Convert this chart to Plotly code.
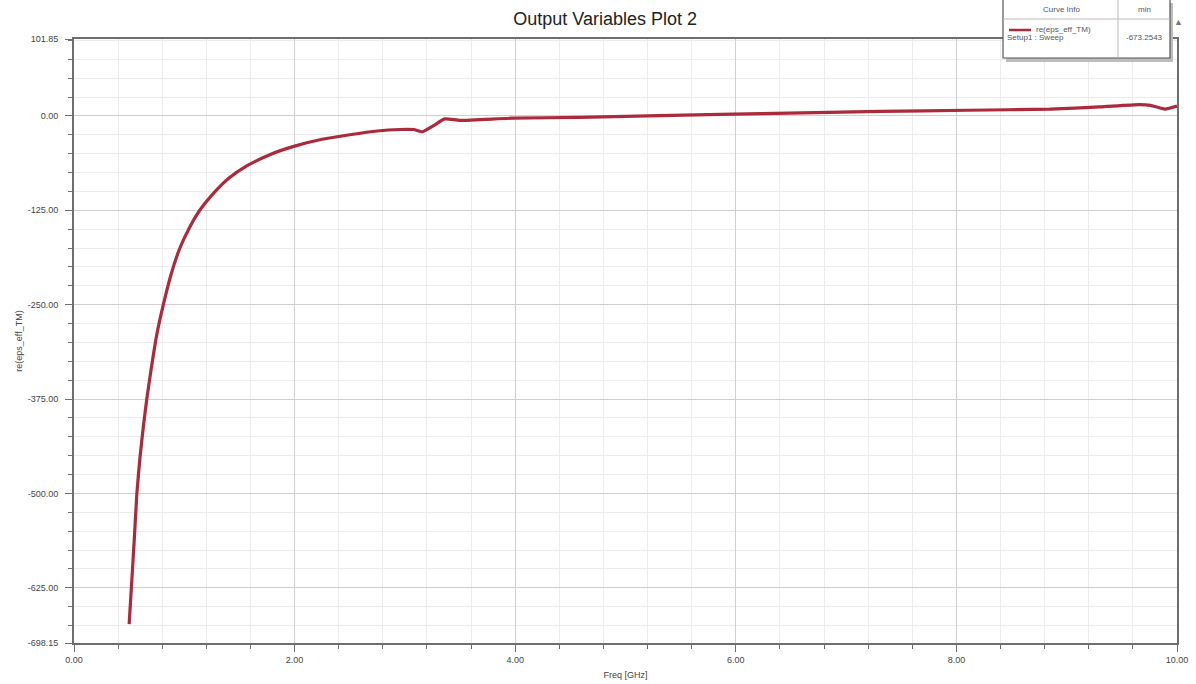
import plotly.graph_objects as go

# Swept frequency (GHz) and the real part of the effective TM permittivity
freq_ghz = [0.50, 0.52, 0.545, 0.57, 0.60, 0.63, 0.66, 0.70, 0.75, 0.81,
            0.88, 0.96, 1.05, 1.14, 1.25, 1.40, 1.57, 1.78, 2.00, 2.25,
            2.50, 2.75, 2.95, 3.08, 3.16, 3.26, 3.36, 3.50, 3.98, 4.59,
            5.20, 5.86, 6.60, 7.31, 8.10, 8.85, 9.30, 9.66, 9.76, 9.89, 10.0]
re_eps_eff_tm = [-673.25, -625, -565, -500, -450, -410, -375, -335, -290, -250,
                 -210, -175, -147, -125, -105, -83, -66, -51, -40, -31,
                 -25, -20, -18, -18, -21, -13, -4, -6, -3, -2,
                 0, 2, 4, 6, 7.5, 9, 12, 15, 14, 9, 13]

x_major = [0, 2, 4, 6, 8, 10]
x_labels = ["0.00", "2.00", "4.00", "6.00", "8.00", "10.00"]
y_major = [101.85, 0, -125, -250, -375, -500, -625, -698.15]
y_labels = ["101.85", "0.00", "-125.00", "-250.00", "-375.00", "-500.00", "-625.00", "-698.15"]

trace_name = "re(eps_eff_TM)"
setup_name = "Setup1 : Sweep"
min_label = "-673.2543"

font_family = "Liberation Sans, Arial, sans-serif"
frame_col = "#6e6e6e"
major_grid = "#cfcfcf"
minor_grid = "#ececec"

# plot area in pixels
L, R, T, B = 74, 1177, 39, 643

fig = go.Figure()
fig.add_trace(go.Scatter(
    x=freq_ghz, y=re_eps_eff_tm, mode="lines",
    line=dict(color="#ab2a3b", width=3.2, shape="spline", smoothing=0.5),
    name=trace_name, showlegend=False, hoverinfo="x+y",
))

fig.update_layout(
    width=1196, height=684,
    margin=dict(l=L, r=1196 - R, t=T, b=684 - B),
    paper_bgcolor="white", plot_bgcolor="white",
    font=dict(family=font_family, size=9, color="#444"),
    title=dict(text="Output Variables Plot 2", x=0.506, xanchor="center",
               y=0.973, yanchor="middle",
               font=dict(size=18, color="#222", family=font_family)),
    xaxis=dict(
        range=[0, 10], tickmode="array", tickvals=x_major, ticktext=x_labels,
        automargin=False,
        showgrid=True, gridcolor=major_grid, gridwidth=1,
        showline=True, linecolor=frame_col, linewidth=2, mirror=True,
        ticks="outside", ticklen=7, tickcolor=frame_col, zeroline=False,
        tickfont=dict(size=9, color="#444"),
        minor=dict(tickmode="linear", tick0=0, dtick=0.4, showgrid=True,
                   gridcolor=minor_grid, ticks="outside", ticklen=4,
                   tickcolor=frame_col),
        title=dict(text="Freq [GHz]", standoff=8, font=dict(size=9, color="#444")),
    ),
    yaxis=dict(
        range=[-698.15, 101.85], tickmode="array", tickvals=y_major, ticktext=y_labels,
        automargin=False,
        showgrid=True, gridcolor=major_grid, gridwidth=1,
        showline=True, linecolor=frame_col, linewidth=2, mirror=True,
        ticks="outside", ticklen=7, tickcolor=frame_col, zeroline=False,
        ticklabelstandoff=5,
        tickfont=dict(size=9, color="#444"),
        minor=dict(tickmode="linear", tick0=0, dtick=25, showgrid=True,
                   gridcolor=minor_grid, ticks="outside", ticklen=4,
                   tickcolor=frame_col),
        title=dict(text=trace_name, standoff=4, font=dict(size=9, color="#444")),
    ),
)

# Curve info table in the upper-right corner (pixel -> paper coordinates)
def px_x(v):
    return (v - L) / (R - L)

def px_y(v):
    return (B - v) / (B - T)

shapes = [
    # drop shadow
    dict(type="rect", xref="paper", yref="paper", x0=px_x(1006), x1=px_x(1173),
         y0=px_y(62), y1=px_y(3), fillcolor="#bdbdbd", line=dict(width=0), layer="above"),
    # table body
    dict(type="rect", xref="paper", yref="paper", x0=px_x(1003), x1=px_x(1170),
         y0=px_y(58), y1=px_y(-2), fillcolor="white",
         line=dict(color="#555", width=1.2), layer="above"),
    # header separator and column divider
    dict(type="line", xref="paper", yref="paper", x0=px_x(1003), x1=px_x(1170),
         y0=px_y(19), y1=px_y(19), line=dict(color="#bbb", width=1), layer="above"),
    dict(type="line", xref="paper", yref="paper", x0=px_x(1118), x1=px_x(1118),
         y0=px_y(58), y1=px_y(-2), line=dict(color="#bbb", width=1), layer="above"),
    # legend line sample
    dict(type="line", xref="paper", yref="paper", x0=px_x(1009), x1=px_x(1031),
         y0=px_y(30), y1=px_y(30), line=dict(color="#ab2a3b", width=2.5), layer="above"),
]
fig.update_layout(shapes=shapes)

annos = [
    dict(text="Curve Info", x=px_x(1061), y=px_y(9), xanchor="center"),
    dict(text="min", x=px_x(1144), y=px_y(9), xanchor="center"),
    dict(text=trace_name, x=px_x(1034), y=px_y(29), xanchor="left"),
    dict(text=setup_name, x=px_x(1005), y=px_y(37), xanchor="left"),
    dict(text=min_label, x=px_x(1144), y=px_y(37), xanchor="center"),
]
for a in annos:
    fig.add_annotation(xref="paper", yref="paper", showarrow=False,
                       yanchor="middle",
                       font=dict(size=8, color="#555", family=font_family), **a)
fig.add_annotation(text="▲", xref="paper", yref="paper", x=px_x(1185), y=px_y(15),
                   showarrow=False, font=dict(size=9, color="#777"))

fig.write_html("out.html")
